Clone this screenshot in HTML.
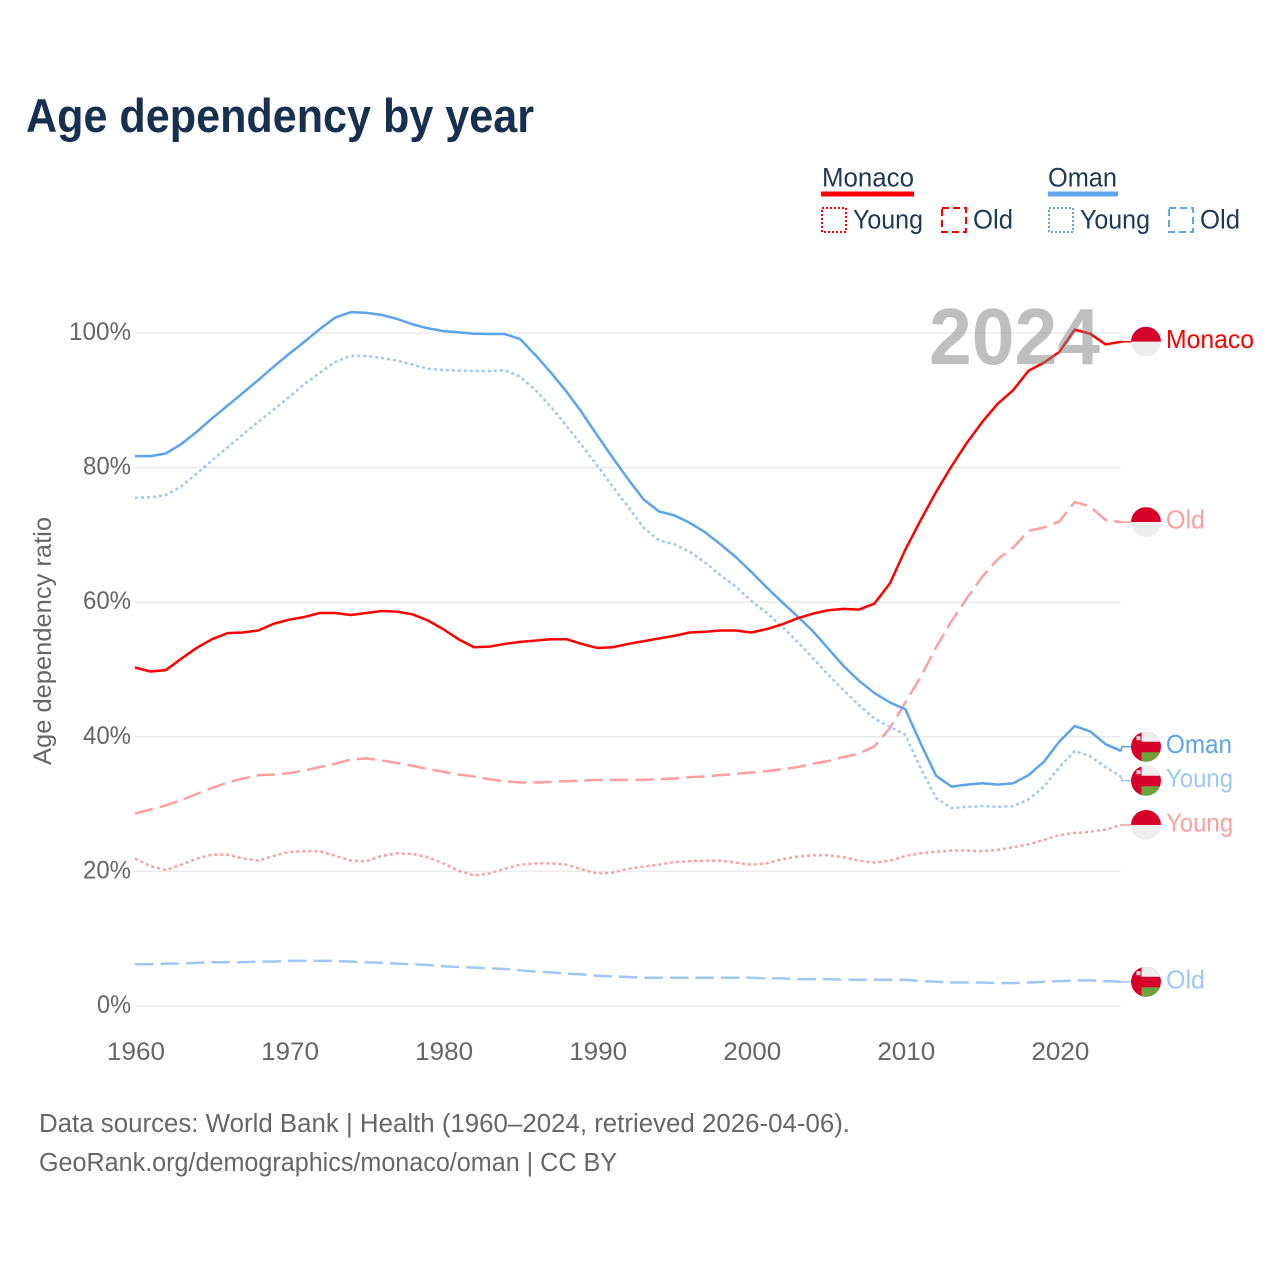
<!DOCTYPE html>
<html lang="en">
<head>
<meta charset="utf-8">
<title>Age dependency by year</title>
<style>
html,body{margin:0;padding:0;background:#fff;width:1280px;height:1280px;overflow:hidden}
svg{display:block;font-family:"Liberation Sans",sans-serif}
</style>
</head>
<body>
<svg id="chart" xmlns="http://www.w3.org/2000/svg" width="1280" height="1280" viewBox="0 0 1280 1280">
  <rect width="1280" height="1280" fill="#fff"/>
  <text x="26" y="132" font-size="47" font-weight="700" fill="#17304f" textLength="508" lengthAdjust="spacingAndGlyphs">Age dependency by year</text>

  <g font-size="26.5" fill="#1f3858">
    <text x="822" y="186.5" textLength="92" lengthAdjust="spacingAndGlyphs">Monaco</text>
    <rect x="821" y="191.5" width="93" height="5" fill="#ff0000"/>
    <rect x="822" y="208" width="24" height="24" fill="none" stroke="#ff0000" stroke-width="2" stroke-dasharray="2 2"/>
    <text x="853" y="228.5" textLength="70" lengthAdjust="spacingAndGlyphs">Young</text>
    <rect x="942" y="208" width="24" height="24" fill="none" stroke="#ff0000" stroke-width="2" stroke-dasharray="7 4"/>
    <text x="973" y="228.5" textLength="40" lengthAdjust="spacingAndGlyphs">Old</text>
    <text x="1048" y="186.5" textLength="69" lengthAdjust="spacingAndGlyphs">Oman</text>
    <rect x="1048" y="191.5" width="70" height="5" fill="#60a5ef"/>
    <rect x="1049" y="208" width="24" height="24" fill="none" stroke="#60a5ef" stroke-width="2" stroke-dasharray="2 2"/>
    <text x="1080" y="228.5" textLength="70" lengthAdjust="spacingAndGlyphs">Young</text>
    <rect x="1169" y="208" width="24" height="24" fill="none" stroke="#60a5ef" stroke-width="2" stroke-dasharray="7 4"/>
    <text x="1200" y="228.5" textLength="40" lengthAdjust="spacingAndGlyphs">Old</text>
  </g>

  <g id="grid"></g>
  <g id="yticks"></g>
  <g id="xticks"></g>
  <text transform="translate(51,641) rotate(-90)" text-anchor="middle" font-size="25" fill="#666" textLength="248" lengthAdjust="spacingAndGlyphs">Age dependency ratio</text>
  <g id="lines"></g>
  <g id="ends"></g>
  <text id="year" x="929" y="364" font-size="80" font-weight="700" fill="#808080" fill-opacity="0.5" textLength="171" lengthAdjust="spacingAndGlyphs">2024</text>

  <text x="39" y="1132" font-size="25.5" fill="#666" textLength="811" lengthAdjust="spacingAndGlyphs">Data sources: World Bank | Health (1960–2024, retrieved 2026-04-06).</text>
  <text x="39" y="1171" font-size="25.5" fill="#666" textLength="578" lengthAdjust="spacingAndGlyphs">GeoRank.org/demographics/monaco/oman | CC BY</text>
</svg>
<script>
const firstYear = 1960;
const yTickValues = [0, 20, 40, 60, 80, 100];
const xTickValues = [1960, 1970, 1980, 1990, 2000, 2010, 2020];

const monacoTotal = [50.3,49.7,49.9,51.6,53.2,54.5,55.4,55.5,55.8,56.8,57.4,57.8,58.4,58.4,58.1,58.4,58.7,58.6,58.2,57.3,56.0,54.5,53.3,53.4,53.8,54.1,54.3,54.5,54.5,53.8,53.2,53.3,53.8,54.2,54.6,55.0,55.5,55.6,55.8,55.8,55.5,56.0,56.7,57.6,58.3,58.8,59.0,58.9,59.8,62.8,67.8,72.2,76.4,80.2,83.7,86.8,89.5,91.5,94.4,95.6,97.2,100.5,99.9,98.3,98.7];
const monacoOld = [28.6,29.2,29.8,30.6,31.5,32.4,33.2,33.8,34.3,34.4,34.6,35.0,35.5,36.0,36.6,36.8,36.5,36.1,35.7,35.2,34.8,34.4,34.1,33.7,33.4,33.2,33.2,33.3,33.4,33.5,33.6,33.6,33.6,33.6,33.7,33.8,34.0,34.1,34.3,34.5,34.7,34.9,35.2,35.5,36.0,36.4,37.0,37.5,38.6,41.3,45.1,48.9,53.3,57.2,60.6,63.8,66.4,68.1,70.6,71.1,72.0,74.9,74.2,72.2,71.9];
const monacoYoung = [21.9,20.8,20.2,21.0,21.9,22.5,22.5,21.9,21.6,22.3,22.9,23.0,23.0,22.3,21.6,21.5,22.3,22.7,22.6,22.1,21.2,20.1,19.4,19.7,20.4,21.0,21.2,21.2,21.0,20.3,19.7,19.8,20.4,20.7,21.0,21.4,21.5,21.6,21.6,21.3,21.0,21.2,21.8,22.2,22.4,22.4,22.1,21.6,21.3,21.6,22.3,22.7,22.9,23.1,23.1,23.0,23.2,23.6,24.0,24.7,25.4,25.7,25.9,26.2,26.9];
const omanTotal = [81.7,81.7,82.1,83.5,85.3,87.3,89.2,91.1,93.0,95.0,96.9,98.7,100.6,102.3,103.1,103.0,102.7,102.1,101.3,100.7,100.3,100.1,99.9,99.85,99.85,99.1,96.7,94.1,91.3,88.2,84.8,81.5,78.3,75.3,73.5,72.9,71.8,70.4,68.6,66.7,64.5,62.2,60.0,57.9,55.7,53.1,50.5,48.3,46.5,45.1,44.1,39.0,34.2,32.6,32.9,33.1,32.9,33.1,34.3,36.3,39.3,41.6,40.8,38.9,37.9];
const omanYoung = [75.5,75.6,75.9,77.2,79.1,81.1,83.0,84.9,86.8,88.6,90.5,92.4,94.1,95.7,96.6,96.6,96.3,95.9,95.3,94.7,94.5,94.4,94.35,94.35,94.45,93.5,91.5,89.0,86.2,83.3,80.3,77.2,74.2,71.1,69.2,68.6,67.5,65.9,64.0,62.3,60.2,58.4,56.4,54.1,51.7,49.2,46.9,44.7,42.7,41.5,40.3,35.3,30.9,29.4,29.6,29.7,29.6,29.7,30.7,32.6,35.5,37.9,37.1,35.5,34.1];
const omanOld = [6.2,6.2,6.3,6.3,6.4,6.5,6.5,6.5,6.6,6.6,6.7,6.7,6.7,6.7,6.6,6.5,6.4,6.3,6.2,6.1,5.9,5.8,5.7,5.6,5.5,5.3,5.1,5.0,4.8,4.7,4.5,4.4,4.3,4.2,4.2,4.2,4.2,4.2,4.2,4.2,4.2,4.1,4.1,4.0,4.0,4.0,3.9,3.9,3.9,3.9,3.9,3.7,3.6,3.5,3.5,3.5,3.4,3.4,3.5,3.6,3.7,3.8,3.8,3.7,3.6];

const RED = '#ff0000', PINK = '#ff9f9f', BLUE = '#5ca3ee', LIGHTBLUE = '#9fc8f5';
const series = [
  {key:'monaco-old',   label:'Old',    values:monacoOld,   color:PINK,      dash:'18.5 7', country:'monaco', labelW:39},
  {key:'monaco-young', label:'Young',  values:monacoYoung, color:PINK,      dash:'3 3',    country:'monaco', labelW:67},
  {key:'oman-old',     label:'Old',    values:omanOld,     color:LIGHTBLUE, dash:'18.5 7', country:'oman',   labelW:39},
  {key:'oman-young',   label:'Young',  values:omanYoung,   color:LIGHTBLUE, dash:'3 3',    country:'oman',   labelW:67},
  {key:'oman-total',   label:'Oman',   values:omanTotal,   color:BLUE,      dash:null,     country:'oman',   labelW:66},
  {key:'monaco-total', label:'Monaco', values:monacoTotal, color:RED,       dash:null,     country:'monaco', labelW:88}
];

const NS = 'http://www.w3.org/2000/svg';
function xScale(year){ return 135 + (year - 1960) * (1121 - 135) / 64; }
function yScale(v){ return 1006 - v * 6.73; }
function mk(tag, attrs, parent){
  const el = document.createElementNS(NS, tag);
  for (const k in attrs) el.setAttribute(k, attrs[k]);
  parent.appendChild(el);
  return el;
}

const gridG = document.getElementById('grid');
const yG = document.getElementById('yticks');
const xG = document.getElementById('xticks');
const linesG = document.getElementById('lines');
const endsG = document.getElementById('ends');

yTickValues.forEach(function(v){
  const line = mk('line', {x1:135, x2:1121, y1:yScale(v), y2:yScale(v), stroke:'#eaeaea', 'stroke-width':1.5}, gridG);
  
  
  const t = mk('text', {x:131, y:yScale(v) + 7, 'text-anchor':'end', 'font-size':25, fill:'#666', textLength:(String(v).length * 14 + 20), lengthAdjust:'spacingAndGlyphs'}, yG);
  t.textContent = v + '%';
  
  
});

xTickValues.forEach(function(y){
  const t = mk('text', {x:xScale(y) + 1, y:1060, 'text-anchor':'middle', 'font-size':25, fill:'#666', textLength:58, lengthAdjust:'spacingAndGlyphs'}, xG);
  t.textContent = y;
  
  
});

series.forEach(function(s){
  const pts = s.values.map(function(v, i){ return xScale(firstYear + i).toFixed(2) + ',' + yScale(v).toFixed(2); }).join(' ');
  const attrs = {points:pts, fill:'none', stroke:s.color, 'stroke-width':2.5, 'stroke-linejoin':'round'};
  if (s.dash) attrs['stroke-dasharray'] = s.dash;
  const pl = mk('polyline', attrs, linesG);
  
  
});

/* end labels: keep flags at least 34px apart */
const minGap = 34;
const lastYear = firstYear + monacoTotal.length - 1;
const placed = series.map(function(s){
  const last = yScale(s.values[s.values.length - 1]);
  return {s:s, last:last, y:last};
}).sort(function(a, b){ return a.y - b.y; });
for (let pass = 0; pass < 20; pass++) {
  for (let i = 1; i < placed.length; i++) {
    const d = placed[i].y - placed[i - 1].y;
    if (d < minGap) {
      const shift = (minGap - d) / 2;
      placed[i - 1].y -= shift;
      placed[i].y += shift;
    }
  }
}

const defs = mk('defs', {}, endsG);
placed.forEach(function(p, idx){
  const s = p.s, ex = xScale(lastYear), cx = 1146, cy = p.y, r = 15;
  const leader = mk('polyline', {points:ex + ',' + p.last + ' ' + (ex + 1) + ',' + cy + ' 1131,' + cy, fill:'none', stroke:s.color, 'stroke-width':1.6}, endsG);
  
  

  const clip = mk('clipPath', {id:'clip' + idx}, defs);
  mk('circle', {cx:cx, cy:cy, r:r}, clip);
  const g = mk('g', {'clip-path':'url(#clip' + idx + ')'}, endsG);
  
  
  if (s.country === 'monaco') {
    mk('rect', {x:cx - r, y:cy - r, width:2 * r, height:r, fill:'#d6002b'}, g);
    mk('rect', {x:cx - r, y:cy, width:2 * r, height:r, fill:'#eeeeee'}, g);
  } else {
    mk('rect', {x:cx - r, y:cy - r, width:2 * r, height:2 * r, fill:'#d6002b'}, g);
    mk('rect', {x:cx - 4.5, y:cy - r, width:r + 4.5, height:10, fill:'#eeeeee'}, g);
    mk('rect', {x:cx - 4.5, y:cy + 5.5, width:r + 4.5, height:10, fill:'#6fa23d'}, g);
    mk('rect', {x:cx - 9.5, y:cy - 10.5, width:4, height:4, fill:'#f6d9de'}, g);
  }
  const t = mk('text', {x:1166, y:cy + 6.5, 'font-size':26, fill:s.color, textLength:s.labelW, lengthAdjust:'spacingAndGlyphs'}, endsG);
  t.textContent = s.label;
  
  
});
</script>
</body>
</html>
